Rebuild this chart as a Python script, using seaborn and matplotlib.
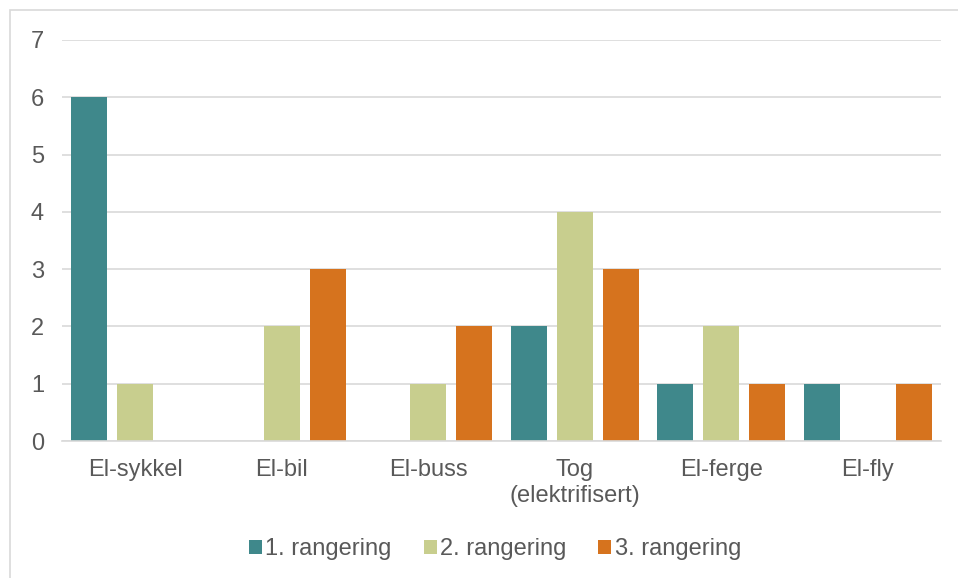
import matplotlib
matplotlib.use("Agg")
import matplotlib.pyplot as plt
import seaborn as sns
import pandas as pd
from matplotlib.patches import Rectangle

categories = ["El-sykkel", "El-bil", "El-buss", "Tog\n(elektrifisert)", "El-ferge", "El-fly"]
series_names = ["1. rangering", "2. rangering", "3. rangering"]
rank1 = [6, 0, 0, 2, 1, 1]
rank2 = [1, 2, 1, 4, 2, 0]
rank3 = [0, 3, 2, 3, 1, 1]
colors = ["#3F888B", "#C8CE8E", "#D6731E"]
y_ticks = [0, 1, 2, 3, 4, 5, 6, 7]

rows = []
for name, vals in zip(series_names, [rank1, rank2, rank3]):
    for c, v in zip(categories, vals):
        rows.append({"kategori": c, "serie": name, "verdi": v})
df = pd.DataFrame(rows)

sns.set_theme(style="white")
plt.rcParams["font.family"] = ["Liberation Sans", "DejaVu Sans"]
text_color = "#595959"
grid_color = "#D9D9D9"
fs = 17

W, H = 958, 578
fig = plt.figure(figsize=(W / 100, H / 100), dpi=100)
ax = fig.add_axes([62 / W, 1 - 441 / H, (941 - 62) / W, (441 - 40) / H])

sns.barplot(data=df, x="kategori", y="verdi", hue="serie", order=categories,
            hue_order=series_names, palette=colors, width=0.94, gap=0.22,
            linewidth=0, saturation=1, ax=ax, legend=True)

ax.set_ylim(0, 7)
ax.set_xlim(-0.5, len(categories) - 0.5)
ax.set_yticks(y_ticks)
ax.yaxis.grid(True, color=grid_color, linewidth=1.2)
ax.set_axisbelow(True)
for s in ["top", "right", "left"]:
    ax.spines[s].set_visible(False)
ax.spines["bottom"].set_color(grid_color)
ax.spines["bottom"].set_linewidth(1.2)
ax.set_xlabel("")
ax.set_ylabel("")
ax.tick_params(axis="y", length=0, pad=13, labelsize=fs, labelcolor=text_color)
ax.tick_params(axis="x", length=0, pad=13, labelsize=fs, labelcolor=text_color)
for lbl in ax.get_xticklabels():
    lbl.set_linespacing(1.25)

leg = ax.get_legend()
handles = leg.legend_handles
leg.remove()
fig.legend(handles, series_names, loc="center", bbox_to_anchor=(495 / W, 1 - 549 / H),
           ncol=3, frameon=False, fontsize=fs, labelcolor=text_color,
           handlelength=0.55, handleheight=0.55, handletextpad=0.15, columnspacing=1.35)

fig.patches.append(Rectangle((10 / W, -0.1), 1.2, 1 - 10 / H + 0.1, transform=fig.transFigure,
                             fill=False, edgecolor=grid_color, linewidth=1.2, zorder=0))

fig.savefig("out.png", dpi=100, facecolor="white")
